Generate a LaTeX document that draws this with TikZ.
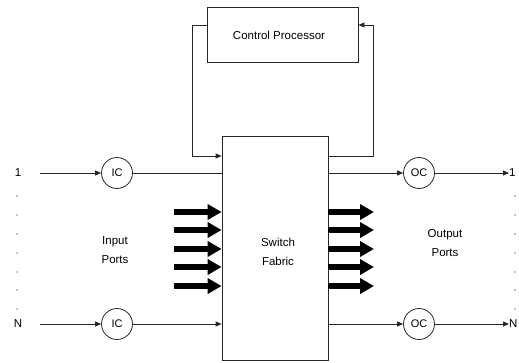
\documentclass[tikz,border=0pt]{standalone}
\usepackage{fontspec}
\setmainfont{Liberation Sans}
\usetikzlibrary{arrows.meta}
\begin{document}
\begin{tikzpicture}[x=1pt,y=-1pt,
  line/.style={draw=black!85,line width=0.8pt},
  thin/.style={line,-{Triangle[length=6pt,width=5pt]}},
  fat/.style={draw=black,line width=5.5pt,-{Triangle[length=14pt,width=15pt]}},
  port/.style={circle,draw=black!85,line width=0.8pt,minimum size=31pt,inner sep=0pt,font=\fontsize{11}{12}\selectfont},
  lbl/.style={font=\fontsize{11.5}{13}\selectfont,inner sep=0pt},
  dot/.style={circle,fill=black,inner sep=0pt,minimum size=1.3pt}]
\useasboundingbox (0,0) rectangle (519,362);
% boxes
\node[draw=black!85,line width=0.8pt,minimum width=151pt,minimum height=55pt,inner sep=0pt] (cp) at (282.5,34.5) {};
\node[lbl] (cpt) at (279,35) {Control Processor};
\node[draw=black!85,line width=0.8pt,minimum width=106pt,minimum height=224pt,inner sep=0pt] (sf) at (275,248) {};
\node[lbl,align=center,font=\fontsize{11.5}{19}\selectfont] (sft) at (278,252) {Switch\\Fabric};
% feedback
\coordinate (fl0) at (cp.west |- 0,25);
\coordinate (fl1) at (192,25);
\coordinate (fl2) at (192,156);
\coordinate (fl3) at (sf.west |- 0,156);
\draw[thin] (fl0) -- (fl1) -- (fl2) -- (fl3);
\coordinate (fr0) at (sf.east |- 0,156);
\coordinate (fr1) at (373,156);
\coordinate (fr2) at (373,25);
\coordinate (fr3) at (cp.east |- 0,25);
\draw[thin] (fr0) -- (fr1) -- (fr2) -- (fr3);
% ports
\node[port] (ic1) at (117,173) {IC};
\node[port] (icn) at (117,324) {IC};
\node[port] (oc1) at (419,173) {OC};
\node[port] (ocn) at (419,324) {OC};
\node[lbl] (in1) at (18,173) {1};
\node[lbl] (inn) at (18,324) {N};
\node[lbl,anchor=west] (out1) at (509,173) {1};
\node[lbl,anchor=west] (outn) at (509,324) {N};
\coordinate (a1) at (40,173);
\coordinate (an) at (40,324);
\draw[thin] (a1) -- (ic1);
\draw[thin] (an) -- (icn);
\draw[line] (ic1) -- (sf.west |- ic1);
\draw[thin] (icn) -- (sf.west |- icn);
\draw[thin] (sf.east |- oc1) -- (oc1);
\draw[thin] (sf.east |- ocn) -- (ocn);
\draw[thin] (oc1) -- (out1.west);
\draw[thin] (ocn) -- (outn.west);
% dots
\foreach \y in {196,215,234,253,272,290,309} {
  \node[dot] at (17,\y) {};
  \node[dot] at (515,\y) {};
}
% fat arrows
\foreach \y in {212,230,249,267,286} {
  \coordinate (il\y) at (174,\y);
  \draw[fat] (il\y) -- (sf.west |- il\y);
  \coordinate (or\y) at (374,\y);
  \draw[fat] (sf.east |- or\y) -- (or\y);
}
\node[lbl,align=center,font=\fontsize{11.5}{19}\selectfont] (ipt) at (115,250) {Input\\Ports};
\node[lbl,align=center,font=\fontsize{11.5}{19}\selectfont] (opt) at (445,243) {Output\\Ports};
\end{tikzpicture}
\end{document}
